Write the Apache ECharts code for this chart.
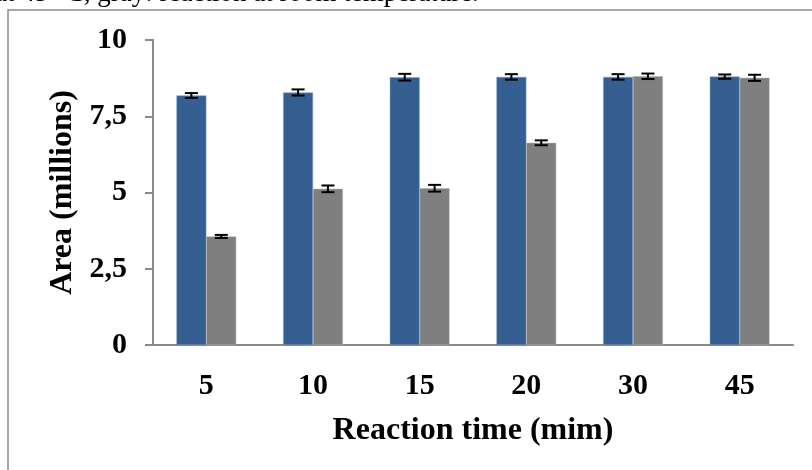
<!DOCTYPE html>
<html>
<head>
<meta charset="utf-8">
<script src="https://cdn.jsdelivr.net/npm/echarts@6/dist/echarts.min.js"></script>
<style>
  html, body { margin: 0; padding: 0; background: #fff; }
  #chart { width: 812px; height: 470px; }
</style>
</head>
<body>
<div id="chart"></div>
<script>
const categories = ['5', '10', '15', '20', '30', '45'];
// blue: reaction at 45 °C, gray: room temperature
const hotValues = [8.18, 8.28, 8.78, 8.79, 8.79, 8.80];
const hotErrors = [0.08, 0.10, 0.11, 0.09, 0.09, 0.07];
const roomValues = [3.56, 5.12, 5.14, 6.63, 8.81, 8.76];
const roomErrors = [0.05, 0.11, 0.11, 0.08, 0.09, 0.10];
const yTicks = [0, 2.5, 5, 7.5, 10];

const serif = '"Liberation Serif", "Times New Roman", serif';
const axisGray = '#8a8a8a';
const catGap = 0.44;

const chart = echarts.init(document.getElementById('chart'));

// error bars sit on top of each bar, side picks left (blue) or right (gray) half
const errorSeries = (values, errors, side) => ({
  type: 'custom',
  silent: true,
  z: 10,
  data: values.map((v, i) => [i, v, errors[i]]),
  renderItem: (params, api) => {
    const catW = api.size([1, 0])[0];
    const barW = catW * (1 - catGap) / 2;
    const c = api.coord([api.value(0), api.value(1)]);
    const x = c[0] + side * barW / 2;
    const hi = api.coord([api.value(0), api.value(1) + api.value(2)])[1];
    const lo = api.coord([api.value(0), api.value(1) - api.value(2)])[1];
    const cap = 6.5;
    const style = { stroke: '#000', lineWidth: 2 };
    return {
      type: 'group',
      children: [
        { type: 'line', shape: { x1: x, y1: hi, x2: x, y2: lo }, style },
        { type: 'line', shape: { x1: x - cap, y1: hi, x2: x + cap, y2: hi }, style },
        { type: 'line', shape: { x1: x - cap, y1: lo, x2: x + cap, y2: lo }, style }
      ]
    };
  }
});

chart.setOption({
  animation: false,
  backgroundColor: '#fff',
  grid: { left: 153, right: 19, top: 40, bottom: 125 },
  graphic: [
    {
      type: 'rect',
      shape: { x: 8, y: 10, width: 900, height: 600 },
      style: { fill: 'none', stroke: '#8c8c8c', lineWidth: 1.5 },
      silent: true
    },
    {
      type: 'text',
      left: -5,
      top: -20,
      style: {
        text: 'at 45 °C, gray: reaction at room temperature.',
        font: '27px ' + serif,
        fill: '#000'
      },
      silent: true
    }
  ],
  xAxis: {
    type: 'category',
    data: categories,
    name: 'Reaction time (mim)',
    nameLocation: 'middle',
    nameGap: 70,
    nameTextStyle: { fontFamily: serif, fontWeight: 'bold', fontSize: 32, color: '#000' },
    axisLine: { lineStyle: { color: axisGray, width: 2 } },
    axisTick: { length: 8, lineStyle: { color: axisGray, width: 2 } },
    axisLabel: { margin: 26, fontFamily: serif, fontWeight: 'bold', fontSize: 30, color: '#000' }
  },
  yAxis: {
    type: 'value',
    min: yTicks[0],
    max: yTicks[yTicks.length - 1],
    interval: 2.5,
    name: 'Area (millions)',
    nameLocation: 'middle',
    nameGap: 74,
    nameTextStyle: { fontFamily: serif, fontWeight: 'bold', fontSize: 32, color: '#000' },
    splitLine: { show: false },
    axisLine: { show: true, lineStyle: { color: axisGray, width: 2 } },
    axisTick: { show: true, length: 8, lineStyle: { color: axisGray, width: 2 } },
    axisLabel: {
      margin: 26,
      fontFamily: serif,
      fontWeight: 'bold',
      fontSize: 30,
      color: '#000',
      formatter: v => String(v).replace('.', ',')
    }
  },
  series: [
    {
      name: '45 °C',
      type: 'bar',
      data: hotValues,
      barGap: '0%',
      barCategoryGap: catGap * 100 + '%',
      itemStyle: { color: '#365f91', borderColor: '#7f9cc4', borderWidth: 0.5 }
    },
    {
      name: 'room temperature',
      type: 'bar',
      data: roomValues,
      itemStyle: { color: '#7f7f7f', borderColor: '#b0b0b0', borderWidth: 0.5 }
    },
    errorSeries(hotValues, hotErrors, -1),
    errorSeries(roomValues, roomErrors, 1)
  ]
});
</script>
</body>
</html>
